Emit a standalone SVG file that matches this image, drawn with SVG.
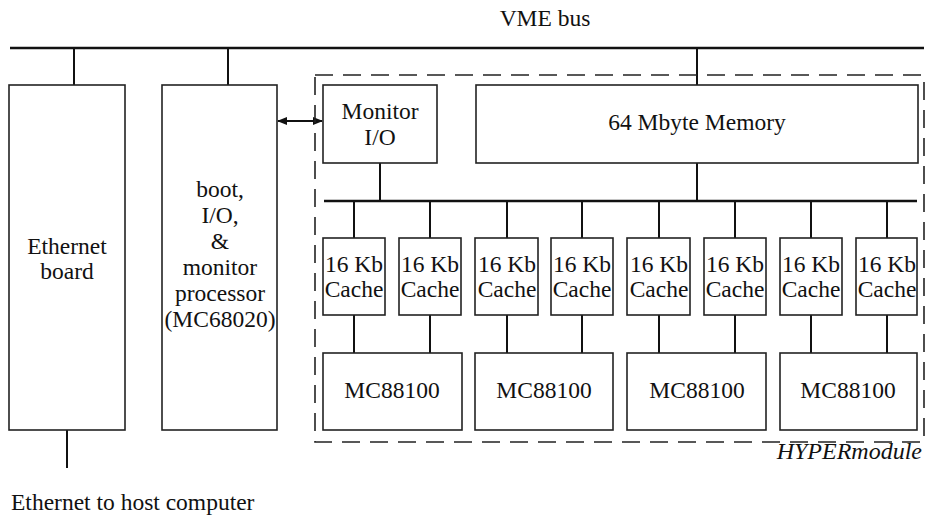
<svg xmlns="http://www.w3.org/2000/svg" width="928" height="519" viewBox="0 0 928 519" font-family="'Liberation Serif', 'Times New Roman', serif">
<style>
text{font-family:'Liberation Serif','Times New Roman',serif;font-size:23.5px;fill:#111;text-anchor:middle}
.it{font-style:italic;text-anchor:end;font-size:24px}
.box{fill:#fff;stroke:#222;stroke-width:1.6}
.ln{stroke:#111;stroke-width:2;fill:none}
.bus{stroke:#111;stroke-width:2.6;fill:none}
.dash{fill:none;stroke:#222;stroke-width:1.6;stroke-dasharray:18 10}
</style>
<defs>
<marker id="ah" markerWidth="10" markerHeight="8" refX="9" refY="4" orient="auto-start-reverse" markerUnits="userSpaceOnUse">
<path d="M0,0 L10,4 L0,8 Z" fill="#111"/>
</marker>
</defs>
<rect width="928" height="519" fill="#fff"/>
<g font-family="'Liberation Serif', serif">
<text x="545" y="26">VME bus</text>
<g id="connectors">
<line class="bus" x1="10" y1="48" x2="924" y2="48"/>
<line class="ln" x1="74" y1="48" x2="74" y2="85"/>
<line class="ln" x1="228" y1="48" x2="228" y2="85"/>
<line class="ln" x1="697" y1="48" x2="697" y2="85"/>
<line class="ln" x1="67" y1="430" x2="67" y2="468"/>
<line class="ln" x1="278" y1="121" x2="322" y2="121" marker-start="url(#ah)" marker-end="url(#ah)"/>
<line class="ln" x1="380" y1="163" x2="380" y2="201"/>
<line class="ln" x1="697" y1="163" x2="697" y2="201"/>
<line class="bus" x1="324" y1="201" x2="917" y2="201"/>
<path class="ln" d="M354,201V238M430,201V238M507,201V238M582,201V238M659,201V238M735,201V238M811,201V238M887,201V238"/>
<path class="ln" d="M354,315V353M430,315V353M507,315V353M582,315V353M659,315V353M735,315V353M811,315V353M887,315V353"/>
</g>
<g id="hypermodule">
<rect class="dash" x="315" y="75" width="609" height="367"/>
<text class="it" x="922" y="459">HYPERmodule</text>
</g>
<g id="ethernet-board">
<rect class="box" x="9" y="85" width="116" height="345"/>
<text x="67" y="254">Ethernet</text>
<text x="67" y="279">board</text>
</g>
<g id="boot-processor">
<rect class="box" x="162" y="85" width="115" height="345"/>
<text x="220" y="197">boot,</text>
<text x="220" y="223">I/O,</text>
<text x="220" y="249">&amp;</text>
<text x="220" y="275">monitor</text>
<text x="220" y="301">processor</text>
<text x="220" y="327">(MC68020)</text>
</g>
<g id="monitor-io">
<rect class="box" x="323" y="85" width="114" height="78"/>
<text x="380" y="119">Monitor</text>
<text x="380" y="145">I/O</text>
</g>
<g id="memory">
<rect class="box" x="476" y="85" width="442" height="78"/>
<text x="697" y="130">64 Mbyte Memory</text>
</g>
<g id="cache1"><rect class="box" x="323" y="238" width="62" height="77"/><text x="354" y="272">16 Kb</text><text x="354" y="297">Cache</text></g>
<g id="cache2"><rect class="box" x="399" y="238" width="62" height="77"/><text x="430" y="272">16 Kb</text><text x="430" y="297">Cache</text></g>
<g id="cache3"><rect class="box" x="475" y="238" width="63" height="77"/><text x="507" y="272">16 Kb</text><text x="507" y="297">Cache</text></g>
<g id="cache4"><rect class="box" x="551" y="238" width="62" height="77"/><text x="582" y="272">16 Kb</text><text x="582" y="297">Cache</text></g>
<g id="cache5"><rect class="box" x="627" y="238" width="63" height="77"/><text x="659" y="272">16 Kb</text><text x="659" y="297">Cache</text></g>
<g id="cache6"><rect class="box" x="704" y="238" width="62" height="77"/><text x="735" y="272">16 Kb</text><text x="735" y="297">Cache</text></g>
<g id="cache7"><rect class="box" x="780" y="238" width="62" height="77"/><text x="811" y="272">16 Kb</text><text x="811" y="297">Cache</text></g>
<g id="cache8"><rect class="box" x="856" y="238" width="61" height="77"/><text x="887" y="272">16 Kb</text><text x="887" y="297">Cache</text></g>
<g id="cpu1"><rect class="box" x="323" y="353" width="139" height="77"/><text x="392" y="398">MC88100</text></g>
<g id="cpu2"><rect class="box" x="475" y="353" width="138" height="77"/><text x="544" y="398">MC88100</text></g>
<g id="cpu3"><rect class="box" x="627" y="353" width="139" height="77"/><text x="697" y="398">MC88100</text></g>
<g id="cpu4"><rect class="box" x="780" y="353" width="137" height="77"/><text x="848" y="398">MC88100</text></g>
<text x="11" y="510" style="text-anchor:start">Ethernet to host computer</text>
</g>
</svg>
